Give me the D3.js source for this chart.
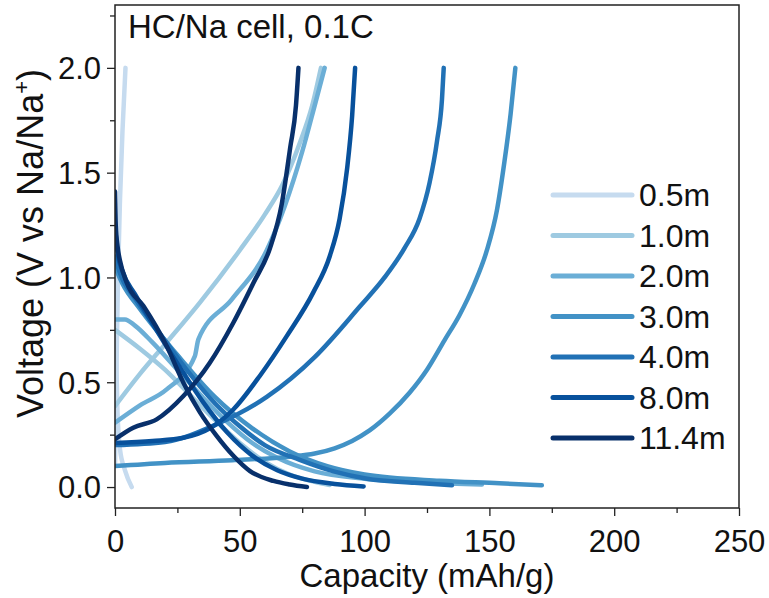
<!DOCTYPE html>
<html><head><meta charset="utf-8">
<script src="https://cdn.jsdelivr.net/npm/d3@7"></script>
<style>
html,body{margin:0;padding:0;background:#fff;}
text{font-family:"Liberation Sans",Arial,sans-serif;fill:#111;}
</style></head>
<body><svg id="c" width="769" height="598"></svg>
<script>
const seriesNames = ["0.5m","1.0m","2.0m","3.0m","4.0m","8.0m","11.4m"];
const seriesColors = ["#c6dbef","#9ecae1","#6baed6","#4292c6","#2171b5","#08519c","#08306b"];
const xTicks = [0,50,100,150,200,250];
const yTicks = [0.0,0.5,1.0,1.5,2.0];
const title = "HC/Na cell, 0.1C";
const xTitle = "Capacity (mAh/g)";

// discharge (sodiation) curves: [capacity, voltage]
const dis05 = [[0,1.0],[0.5,0.6],[1,0.36],[2,0.18],[4,0.08],[6.7,0.0]];
const dis10 = [[0,0.75],[10,0.66],[20,0.56],[30,0.44],[40,0.32],[50,0.21],[60,0.12],[70,0.06],[80,0.025],[86,0.01]];
const dis20 = [[0,0.8],[4,0.8],[8,0.77],[15,0.69],[25,0.56],[35,0.43],[45,0.31],[55,0.21],[65,0.14],[80,0.075],[100,0.04],[125,0.022],[147,0.012]];
const dis30 = [[0,1.05],[3,0.97],[10,0.85],[25,0.63],[40,0.43],[55,0.28],[70,0.17],[85,0.1],[100,0.06],[130,0.03],[154,0.018],[171,0.008]];
const dis40 = [[0,1.1],[2,1.02],[8,0.9],[20,0.7],[30,0.54],[40,0.4],[50,0.29],[60,0.2],[74,0.13],[87.6,0.075],[101,0.04],[120,0.02],[135,0.008]];
const dis80 = [[0,1.25],[1,1.12],[3,1.03],[8,0.92],[15,0.78],[25,0.59],[35,0.41],[45,0.26],[55,0.15],[65,0.08],[75,0.04],[88,0.015],[99.6,0.003]];
const dis114 = [[0,1.41],[0.3,1.25],[1,1.15],[2,1.08],[4.7,0.975],[11.4,0.864],[20.7,0.673],[27.4,0.498],[34.1,0.355],[40.8,0.243],[47.5,0.148],[54.1,0.076],[63.5,0.029],[70,0.012],[76.9,0.0]];

// charge (desodiation) curves: [capacity, voltage]
const chg05 = [[0,0.1],[0.5,0.5],[1.2,1.0],[2.0,1.37],[3,1.7],[4.2,2.0]];
const chg10 = [[0,0.386],[10,0.54],[20.7,0.69],[34,0.88],[50,1.13],[60,1.3],[67,1.44],[74,1.64],[79,1.82],[82.5,2.0]];
const chg20 = [[0,0.307],[10,0.39],[20.7,0.466],[32,0.625],[33.4,0.705],[46.8,0.895],[60.8,1.13],[68,1.34],[75,1.6],[80,1.82],[84,2.0]];
const chg30 = [[0,0.1],[20,0.115],[47,0.128],[70,0.145],[80,0.16],[88,0.185],[95,0.22],[102,0.27],[110,0.35],[118,0.45],[125,0.56],[132,0.7],[138,0.82],[144,0.97],[149,1.13],[153,1.32],[156,1.55],[158.5,1.78],[160.4,2.0]];
const chg40 = [[0,0.2],[20,0.215],[40.8,0.3],[60.8,0.43],[80,0.62],[98,0.86],[108,1.0],[116,1.14],[122,1.28],[126,1.45],[129,1.65],[131,1.85],[131.7,2.0]];
const chg80 = [[0,0.21],[15,0.22],[27.4,0.235],[38,0.28],[47.4,0.37],[58,0.53],[68.8,0.72],[79.5,0.93],[86,1.1],[90,1.28],[93,1.52],[95,1.77],[96.2,2.0]];
const chg114 = [[0,0.228],[7.3,0.283],[16.7,0.323],[27.4,0.434],[38,0.593],[47.4,0.784],[55.5,0.975],[62.1,1.14],[66.8,1.35],[70.2,1.62],[72.5,1.82],[73.5,2.0]];

const discharge = [dis05,dis10,dis20,dis30,dis40,dis80,dis114];
const charge = [chg05,chg10,chg20,chg30,chg40,chg80,chg114];

const W=769,H=598;
const m={left:115,right:739,top:5,bottom:508};
const svg=d3.select("#c");
const x=d3.scaleLinear().domain([0,250]).range([m.left,m.right]);
const y=d3.scaleLinear().domain([-0.1,2.3]).range([m.bottom,m.top]);

const line=d3.line().x(d=>x(d[0])).y(d=>y(d[1])).curve(d3.curveMonotoneX);
svg.append("clipPath").attr("id","pc").append("rect")
  .attr("x",m.left).attr("y",m.top).attr("width",m.right-m.left).attr("height",m.bottom-m.top);
const g=svg.append("g").attr("clip-path","url(#pc)");
seriesNames.forEach((n,i)=>{
  [discharge[i],charge[i]].forEach(arr=>{
    g.append("path").datum(arr).attr("d",line).attr("fill","none")
      .attr("stroke",seriesColors[i]).attr("stroke-width",4.5)
      .attr("stroke-linecap","round").attr("stroke-linejoin","round");
  });
});

// axes
const xAxis=d3.axisBottom(x).tickValues(xTicks).tickSize(8).tickFormat(d3.format("d"));
const xMinor=d3.axisBottom(x).tickValues(xTicks.slice(0,-1).map(v=>v+25)).tickSize(5).tickFormat("");
const yAxis=d3.axisLeft(y).tickValues(yTicks).tickSize(8).tickFormat(d3.format(".1f"));
const yMinor=d3.axisLeft(y).tickValues(yTicks.map(v=>v+0.25)).tickSize(5).tickFormat("");
const gx=svg.append("g").attr("transform",`translate(0,${m.bottom})`).call(xAxis);
svg.append("g").attr("transform",`translate(0,${m.bottom})`).call(xMinor);
const gy=svg.append("g").attr("transform",`translate(${m.left},0)`).call(yAxis);
svg.append("g").attr("transform",`translate(${m.left},0)`).call(yMinor);
svg.selectAll(".domain").remove();
svg.selectAll(".tick line").attr("stroke","#222").attr("stroke-width",1.3);
gx.selectAll(".tick text").attr("font-size",31).attr("dy",0).attr("y",44).attr("font-family","Liberation Sans, Arial, sans-serif").attr("fill","#111");
gy.selectAll(".tick text").attr("font-size",31).attr("dy","0.35em").attr("x",-14).attr("font-family","Liberation Sans, Arial, sans-serif").attr("fill","#111");

svg.append("rect").attr("x",m.left).attr("y",m.top).attr("width",m.right-m.left).attr("height",m.bottom-m.top)
  .attr("fill","none").attr("stroke","#222").attr("stroke-width",1.5);

svg.append("text").attr("x",128).attr("y",38).attr("font-size",33).text(title);
svg.append("text").attr("x",(m.left+m.right)/2).attr("y",587).attr("text-anchor","middle").attr("font-size",33).text(xTitle);
const yt=svg.append("text").attr("transform","translate(43,418) rotate(-90)").attr("font-size",36);
yt.append("tspan").text("Voltage (V vs Na/Na");
yt.append("tspan").attr("font-size",22).attr("dy",-14).text("+");
yt.append("tspan").attr("dy",14).text(")");

// legend
const lg=svg.append("g");
seriesNames.forEach((n,i)=>{
  const yy=195+i*40.5;
  lg.append("line").attr("x1",553).attr("x2",632).attr("y1",yy).attr("y2",yy)
    .attr("stroke",seriesColors[i]).attr("stroke-width",5).attr("stroke-linecap","round");
  lg.append("text").attr("x",639).attr("y",yy+11).attr("font-size",32).text(n);
});
</script></body></html>
